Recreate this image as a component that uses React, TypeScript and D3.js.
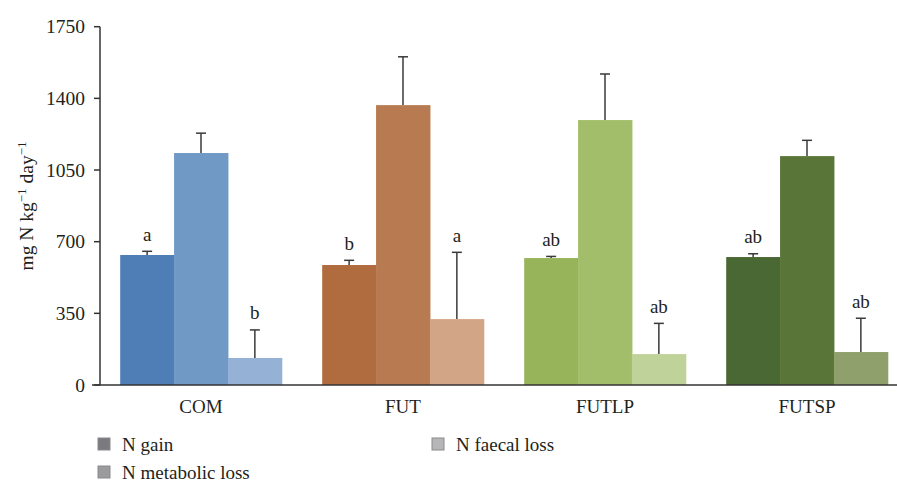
import React from 'react'
import * as d3 from 'd3'

// data
const categories = ['COM', 'FUT', 'FUTLP', 'FUTSP']
const seriesNames = ['N gain', 'N metabolic loss', 'N faecal loss']
const gain = [635, 586, 620, 625]
const gainErr = [18, 23, 8, 16]
const metabolic = [1133, 1367, 1294, 1118]
const metabolicErr = [97, 236, 225, 77]
const faecal = [132, 322, 151, 161]
const faecalErr = [137, 326, 150, 165]
const gainLetters = ['a', 'b', 'ab', 'ab']
const faecalLetters = ['b', 'a', 'ab', 'ab']
const yTicks = [0, 350, 700, 1050, 1400, 1750]

// one colour triple per treatment (gain, metabolic, faecal)
const groupColors = [
  ['#4f7db5', '#7199c5', '#96b1d6'],
  ['#b06b3e', '#b87b51', '#d3a587'],
  ['#97b45a', '#a3be6b', '#bfd299'],
  ['#4a6833', '#5a7538', '#8fa06c'],
]
const legendColors = ['#7b7b7f', '#9b9b9e', '#b6b6b9']

const W = 897
const H = 482
const font = '"Liberation Serif", "Times New Roman", serif'
const textColor = '#231f20'

const App = () => {
  const x = d3.scaleBand<string>()
    .domain(categories)
    .range([100, 908])
    .paddingInner(0.2)
    .paddingOuter(0.1)
  const xs = d3.scaleBand<string>()
    .domain(seriesNames)
    .range([0, x.bandwidth()])
  const y = d3.scaleLinear().domain([0, 1750]).range([385, 26.7])

  const series = [
    { values: gain, errs: gainErr, letters: gainLetters },
    { values: metabolic, errs: metabolicErr, letters: null },
    { values: faecal, errs: faecalErr, letters: faecalLetters },
  ]

  return (
    <div style={{ position: 'absolute', left: 0, top: 0 }}>
      <svg width={W} height={H} style={{ display: 'block', fontFamily: font }}>
        <rect width={W} height={H} fill="#fff" />

        {/* bars */}
        {categories.map((c, ci) => (
          <g key={c}>
            {series.map((s, si) => (
              <rect key={si}
                x={x(c)! + xs(seriesNames[si])!}
                y={y(s.values[ci])}
                width={xs.bandwidth() + 0.5}
                height={y(0) - y(s.values[ci])}
                fill={groupColors[ci][si]} />
            ))}
          </g>
        ))}

        {/* error bars + letters */}
        {categories.map((c, ci) => (
          <g key={c + '-err'}>
            {series.map((s, si) => {
              const cx = x(c)! + xs(seriesNames[si])! + xs.bandwidth() / 2
              const top = y(s.values[ci] + s.errs[ci])
              return (
                <g key={si}>
                  <line x1={cx} x2={cx} y1={y(s.values[ci])} y2={top} stroke="#3a3a3a" strokeWidth={1.5} />
                  <line x1={cx - 5} x2={cx + 5} y1={top} y2={top} stroke="#3a3a3a" strokeWidth={1.5} />
                  {s.letters && (
                    <text x={cx} y={top - 10.5} textAnchor="middle" fontSize={19} fill={textColor}>
                      {s.letters[ci]}
                    </text>
                  )}
                </g>
              )
            })}
          </g>
        ))}

        {/* y axis */}
        <line x1={100} x2={100} y1={y(1750)} y2={y(0)} stroke="#333" strokeWidth={1.5} />
        {yTicks.map(t => (
          <g key={t}>
            <line x1={94} x2={100} y1={y(t)} y2={y(t)} stroke="#333" strokeWidth={1.5} />
            <text x={85} y={y(t)} dy="0.34em" textAnchor="end" fontSize={19.5} fill={textColor}>{t}</text>
          </g>
        ))}

        {/* x axis */}
        <line x1={92} x2={897} y1={y(0)} y2={y(0)} stroke="#333" strokeWidth={1.5} />
        {categories.map(c => (
          <text key={c} x={x(c)! + x.bandwidth() / 2} y={413} textAnchor="middle" fontSize={19} fill={textColor}>{c}</text>
        ))}

        {/* y label */}
        <text transform="translate(33,206) rotate(-90)" textAnchor="middle" fontSize={19.5} fill={textColor}>
          mg N kg<tspan dy="-7" fontSize={13}>−1</tspan><tspan dy="7"> day</tspan><tspan dy="-7" fontSize={13}>−1</tspan>
        </text>

        {/* legend */}
        {[
          { name: seriesNames[0], lx: 98, ly: 438 },
          { name: seriesNames[1], lx: 98, ly: 466 },
          { name: seriesNames[2], lx: 432, ly: 438 },
        ].map((l, i) => (
          <g key={l.name}>
            <rect x={l.lx} y={l.ly} width={12} height={12} fill={legendColors[i]} stroke="#8a8a8d" strokeWidth={1} />
            <text x={l.lx + 24} y={l.ly + 12.5} fontSize={19} fill={textColor}>{l.name}</text>
          </g>
        ))}
      </svg>
    </div>
  )
}

export default App
